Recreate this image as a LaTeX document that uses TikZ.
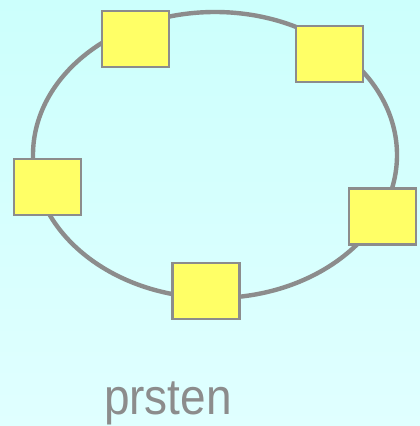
\documentclass[tikz,border=0pt]{standalone}
\usepackage{fontspec}
\setmainfont{Liberation Sans}
\definecolor{ringgray}{HTML}{8C8C8C}
\definecolor{boxyellow}{HTML}{FFFF66}
\definecolor{bgtop}{HTML}{CCFFFC}
\definecolor{bgbot}{HTML}{E0FFFF}
\begin{document}
\begin{tikzpicture}[x=1pt,y=-1pt,
  station/.style={draw=ringgray,line width=2.2pt,fill=boxyellow,minimum width=67pt,minimum height=56pt,inner sep=0pt},
  ring/.style={draw=ringgray,line width=4.4pt}]
\useasboundingbox (0,0) rectangle (420,426);
\shade[top color=bgtop,bottom color=bgbot] (0,0) rectangle (420,426);
\draw[ring] (215,155) ellipse [x radius=182, y radius=143];
\node[station] (s1) at (135.5,39) {};
\node[station] (s2) at (329.5,54) {};
\node[station] (s3) at (47.5,187) {};
\node[station] (s4) at (382.5,216.5) {};
\node[station] (s5) at (206,291) {};
\node[text=ringgray,font=\fontsize{46}{46}\selectfont,anchor=base,inner sep=0pt,yscale=1.1] (lbl) at (168,414) {prsten};
\end{tikzpicture}
\end{document}
